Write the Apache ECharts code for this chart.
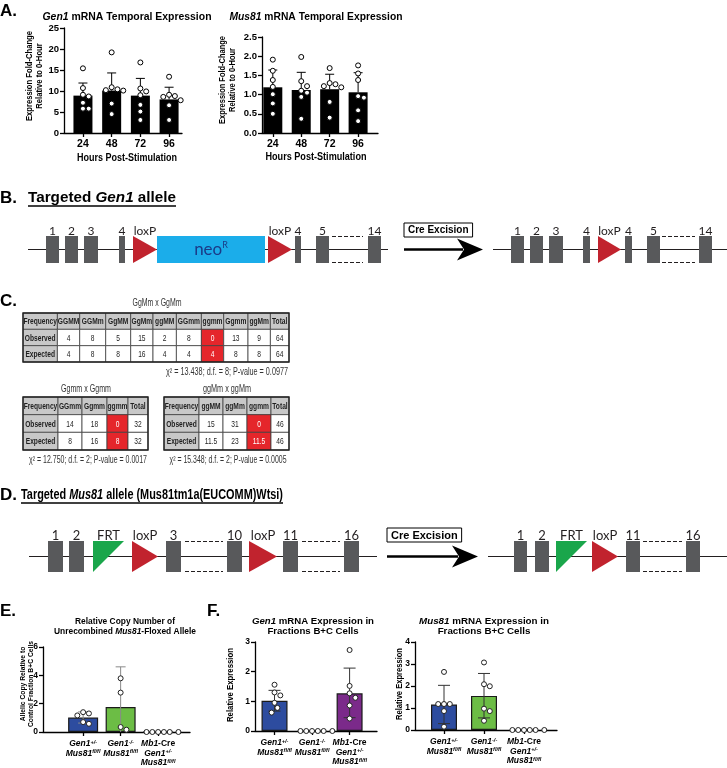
<!DOCTYPE html>
<html><head><meta charset="utf-8">
<script src="https://cdn.jsdelivr.net/npm/echarts@6/dist/echarts.min.js"></script>
<style>html,body{margin:0;padding:0;background:#fff}#c{width:727px;height:768px}</style>
</head><body><div id="c"></div>
<script>
// ================= DATA =================
// Panel A
const hours = ['24', '48', '72', '96'];
const gen1TempMean = [8.9, 10.1, 8.9, 8.0];
const gen1TempHigh = [11.9, 14.3, 13.0, 10.9];
const gen1TempPoints = [
  [15.4, 10.7, 9.1, 8.7, 7.2, 5.8, 5.8],
  [19.2, 10.9, 10.4, 10.2, 10.1, 7.0, 4.5],
  [16.8, 10.6, 9.9, 9.0, 6.7, 5.1, 3.1],
  [13.4, 9.1, 8.8, 8.6, 7.8, 6.6, 3.1]
];
const mus81TempMean = [1.19, 1.12, 1.14, 1.06];
const mus81TempHigh = [1.64, 1.58, 1.53, 1.57];
const mus81TempPoints = [
  [1.91, 1.62, 1.38, 1.20, 1.01, 0.77, 0.50],
  [1.98, 1.35, 1.22, 1.10, 1.05, 0.94, 0.37],
  [1.69, 1.30, 1.27, 1.22, 1.19, 0.81, 0.40],
  [1.76, 1.55, 1.38, 0.96, 0.92, 0.59, 0.31]
];
const gen1YTicks = [0, 5, 10, 15, 20, 25];
const mus81YTicks = [0, 0.5, 1.0, 1.5, 2.0, 2.5];

// Panel B schematic (schematic axis units)
const gen1Allele = [
  {kind: 'line', x0: 28, x1: 388},
  {kind: 'exon', x0: 46, x1: 59, label: '1'},
  {kind: 'exon', x0: 65, x1: 78, label: '2'},
  {kind: 'exon', x0: 84, x1: 98, label: '3'},
  {kind: 'exon', x0: 119, x1: 125, label: '4'},
  {kind: 'lox', x0: 133, x1: 157, label: 'loxP'},
  {kind: 'neo', x0: 157, x1: 265, label: 'neo', sup: 'R'},
  {kind: 'lox', x0: 268, x1: 292, label: 'loxP'},
  {kind: 'exon', x0: 295, x1: 301, label: '4'},
  {kind: 'exon', x0: 316, x1: 329, label: '5'},
  {kind: 'dash', x0: 332, x1: 363},
  {kind: 'exon', x0: 368, x1: 381, label: '14'},
  {kind: 'cre', x0: 404, x1: 483, label: 'Cre Excision'},
  {kind: 'line', x0: 493, x1: 727},
  {kind: 'exon', x0: 511, x1: 524, label: '1'},
  {kind: 'exon', x0: 530, x1: 543, label: '2'},
  {kind: 'exon', x0: 549, x1: 563, label: '3'},
  {kind: 'exon', x0: 583, x1: 590, label: '4'},
  {kind: 'lox', x0: 598, x1: 621, label: 'loxP'},
  {kind: 'exon', x0: 625, x1: 632, label: '4'},
  {kind: 'exon', x0: 647, x1: 660, label: '5'},
  {kind: 'dash', x0: 662, x1: 695},
  {kind: 'exon', x0: 699, x1: 712, label: '14'}
];

// Panel C tables
const crossATitle = 'GgMm x GgMm';
const crossAGenotypes = ['GGMM', 'GGMm', 'GgMM', 'GgMm', 'ggMM', 'GGmm', 'ggmm', 'Ggmm', 'ggMm', 'Total'];
const crossAObserved = ['4', '8', '5', '15', '2', '8', '0', '13', '9', '64'];
const crossAExpected = ['4', '8', '8', '16', '4', '4', '4', '8', '8', '64'];
const crossAStat = 'χ² = 13.438; d.f. = 8; P-value = 0.0977';

const crossBTitle = 'Ggmm x Ggmm';
const crossBGenotypes = ['GGmm', 'Ggmm', 'ggmm', 'Total'];
const crossBObserved = ['14', '18', '0', '32'];
const crossBExpected = ['8', '16', '8', '32'];
const crossBStat = 'χ² = 12.750; d.f. = 2; P-value = 0.0017';

const crossCTitle = 'ggMm x ggMm';
const crossCGenotypes = ['ggMM', 'ggMm', 'ggmm', 'Total'];
const crossCObserved = ['15', '31', '0', '46'];
const crossCExpected = ['11.5', '23', '11.5', '46'];
const crossCStat = 'χ² = 15.348; d.f. = 2; P-value = 0.0005';
const rowNames = ['Frequency', 'Observed', 'Expected'];
const lethalGenotype = 'ggmm';

// Panel D schematic
const mus81Allele = [
  {kind: 'line', x0: 29, x1: 377},
  {kind: 'exon', x0: 48, x1: 63, label: '1'},
  {kind: 'exon', x0: 69, x1: 84, label: '2'},
  {kind: 'frt', x0: 93, x1: 124, label: 'FRT'},
  {kind: 'lox', x0: 132, x1: 158, label: 'loxP'},
  {kind: 'exon', x0: 166, x1: 181, label: '3'},
  {kind: 'dash', x0: 185, x1: 223},
  {kind: 'exon', x0: 227, x1: 242, label: '10'},
  {kind: 'lox', x0: 249, x1: 277, label: 'loxP'},
  {kind: 'exon', x0: 283, x1: 298, label: '11'},
  {kind: 'dash', x0: 302, x1: 340},
  {kind: 'exon', x0: 344, x1: 359, label: '16'},
  {kind: 'cre', x0: 387, x1: 478, label: 'Cre Excision'},
  {kind: 'line', x0: 488, x1: 727},
  {kind: 'exon', x0: 514, x1: 527, label: '1'},
  {kind: 'exon', x0: 535, x1: 549, label: '2'},
  {kind: 'frt', x0: 556, x1: 587, label: 'FRT'},
  {kind: 'lox', x0: 592, x1: 618, label: 'loxP'},
  {kind: 'exon', x0: 626, x1: 640, label: '11'},
  {kind: 'dash', x0: 643, x1: 682},
  {kind: 'exon', x0: 686, x1: 700, label: '16'}
];

// Panels E / F
const mouseGroups = [
  '{i|Gen1}{s|+/-}\n{i|Mus81}{s|fl/fl}',
  '{i|Gen1}{s|-/-}\n{i|Mus81}{s|fl/fl}',
  '{i|Mb1}-Cre\n{i|Gen1}{s|+/-}\n{i|Mus81}{s|fl/fl}'
];
const copyMean = [1.02, 1.76, 0];
const copyLow = [0.63, 0, 0];
const copyHigh = [1.42, 4.6, 0];
const copyPoints = [[1.40, 1.31, 1.17, 0.70, 0.58], [3.79, 2.78, 0.35, 0.16], [0, 0, 0, 0, 0, 0]];
const copyYTicks = [0, 2, 4, 6];

const gen1ExprMean = [1.02, 0, 1.27];
const gen1ExprLow = [0.67, 0, 0.45];
const gen1ExprHigh = [1.37, 0, 2.12];
const gen1ExprPoints = [[1.56, 1.30, 1.20, 0.95, 0.78, 0.62], [0, 0, 0, 0, 0, 0], [2.73, 1.52, 1.27, 1.12, 0.86, 0.42]];
const gen1ExprYTicks = [0, 1, 2, 3];

const mus81ExprMean = [1.16, 1.55, 0];
const mus81ExprLow = [0.29, 0.55, 0];
const mus81ExprHigh = [2.03, 2.57, 0];
const mus81ExprPoints = [[2.64, 1.18, 1.18, 1.18, 0.86, 0.15], [3.07, 2.08, 1.99, 0.97, 0.86, 0.42], [0, 0, 0, 0, 0, 0]];
const mus81ExprYTicks = [0, 1, 2, 3, 4];

// ================= HELPERS =================
const FONT = "'Liberation Sans', Arial, Helvetica, sans-serif";
const SCHEM = "Lato, 'Open Sans', sans-serif";
const BLUE = '#2d4c9f', GREEN = '#6cbd45', PURPLE = '#7b2a8a';
const mctx = document.createElement('canvas').getContext('2d');

function parseRich(s) {
  return s.split('\n').map(line => {
    const toks = []; const re = /\{(\w+)\|([^}]*)\}|([^{]+)/g; let m;
    while ((m = re.exec(line))) { if (m[1]) toks.push({st: m[1], t: m[2]}); else toks.push({st: null, t: m[3]}); }
    return toks;
  });
}
function cssFont(o) { return `${o.fontStyle || 'normal'} ${o.fontWeight || 'normal'} ${o.fontSize}px ${o.fontFamily}`; }
function measure(s, base, rich) {
  return Math.max(...parseRich(s).map(toks => toks.reduce((w, tk) => {
    const st = Object.assign({}, base, tk.st && rich[tk.st] ? rich[tk.st] : {});
    mctx.font = cssFont(st); return w + mctx.measureText(tk.t).width;
  }, 0)));
}
const graphic = [];
function gtext(x, y, s, o) {
  const base = {fontFamily: o.family || FONT, fontSize: o.size, fontWeight: o.weight || 'bold', fontStyle: o.style || 'normal'};
  const rich = o.rich || {};
  const sx = o.width ? o.width / measure(s, base, rich) : 1;
  const zr = {};
  for (const k in rich) zr[k] = Object.assign({}, base, {fill: o.color || '#000', lineHeight: o.lh}, rich[k]);
  graphic.push({type: 'text', x, y, rotation: o.rot || 0, scaleX: sx, silent: true, z: 10,
    style: Object.assign({text: s, x: 0, y: 0, fill: o.color || '#000', align: o.align || 'center',
      verticalAlign: o.va || 'middle', rich: zr, lineHeight: o.lh}, base)});
  return sx;
}
function gline(x1, y1, x2, y2, w) {
  graphic.push({type: 'line', silent: true, z: 10, shape: {x1, y1, x2, y2}, style: {stroke: '#000', lineWidth: w || 1}});
}

const grid = [], xAxis = [], yAxis = [], series = [];
function addGrid(g) { grid.push(Object.assign({outerBoundsMode: 'none', containLabel: false}, g)); return grid.length - 1; }

function swarm(vals, pxPerY, d) {
  const placed = []; const gap = d + 0.8;
  return vals.map(v => {
    const y = v * pxPerY;
    for (let k = 0; k < 60; k++) {
      const c = k === 0 ? 0 : (k % 2 ? 1 : -1) * Math.ceil(k / 2) * gap * 0.5;
      if (placed.every(q => Math.hypot(q.x - c, q.y - y) >= gap)) { placed.push({x: c, y}); return c; }
    }
    return 0;
  });
}

function barPanel(p) {
  const gi = addGrid({left: p.left, top: p.top, width: p.width, height: p.height});
  const idx = p.cats.map((_, i) => i);
  const ls = {color: '#000', width: 1.3};
  xAxis.push({gridIndex: gi, type: 'value', min: p.xmin, max: p.xmax, splitLine: {show: false},
    axisLine: {show: true, onZero: false, lineStyle: ls},
    axisTick: {show: true, customValues: idx, length: 4, lineStyle: ls},
    axisLabel: {customValues: idx, formatter: v => p.cats[Math.round(v)], margin: p.xMargin, color: '#000',
      fontFamily: FONT, fontWeight: 'bold', fontSize: p.xSize, lineHeight: p.xLH, rich: p.xRich}});
  yAxis.push({gridIndex: gi, type: 'value', min: p.yTicks[0], max: p.yTicks[p.yTicks.length - 1],
    splitLine: {show: false},
    axisLine: {show: true, onZero: false, lineStyle: ls},
    axisTick: {show: true, length: 4, lineStyle: ls, customValues: p.yTicks},
    axisLabel: {customValues: p.yTicks, formatter: p.yfmt || (v => String(v)), margin: 5, color: '#000',
      fontFamily: FONT, fontWeight: 'bold', fontSize: p.ySize}});
  series.push({type: 'bar', xAxisIndex: gi, yAxisIndex: gi, barWidth: p.barWidth, z: 2, silent: true,
    data: p.means.map((m, i) => ({value: [i, m], itemStyle: {color: p.colors[i], borderColor: p.border, borderWidth: p.borderWidth}}))});
  const lows = p.lows || p.means;
  series.push({type: 'custom', xAxisIndex: gi, yAxisIndex: gi, z: 3, silent: true, clip: false,
    data: p.means.map((m, i) => [i, lows[i], p.highs[i], m]),
    renderItem: (params, api) => {
      const i = api.value(0), lo = api.value(1), hi = api.value(2), m = api.value(3);
      if (hi <= lo) return null;
      const a = api.coord([i, hi]), b = api.coord([i, lo]);
      const cw = p.capW, st = {stroke: p.errColor, lineWidth: 1};
      const ch = [{type: 'line', shape: {x1: a[0], y1: a[1], x2: b[0], y2: b[1]}, style: st},
        {type: 'line', shape: {x1: a[0] - cw, y1: a[1], x2: a[0] + cw, y2: a[1]}, style: st}];
      if (lo > 0 && lo < m) ch.push({type: 'line', shape: {x1: b[0] - cw, y1: b[1], x2: b[0] + cw, y2: b[1]}, style: st});
      return {type: 'group', children: ch};
    }});
  const pxX = p.width / (p.xmax - p.xmin), pxY = p.height / (p.yTicks[p.yTicks.length - 1]);
  const pts = [];
  p.points.forEach((vals, i) => { const off = swarm(vals, pxY, p.sym); vals.forEach((v, k) => pts.push([i + off[k] / pxX, v])); });
  series.push({type: 'scatter', xAxisIndex: gi, yAxisIndex: gi, z: 4, silent: true, clip: false,
    symbol: 'circle', symbolSize: p.sym, data: pts,
    itemStyle: {color: '#fff', borderColor: p.ptBorder, borderWidth: 1, opacity: 1}});
}

function diagram(items, top, height, labelSize, creSize) {
  const gi = addGrid({left: 0, top, width: 727, height});
  xAxis.push({gridIndex: gi, type: 'value', min: 0, max: 727, show: false});
  yAxis.push({gridIndex: gi, type: 'value', min: 0, max: 1, show: false});
  const lf = `normal ${labelSize}px ${SCHEM}`;
  const cf = `bold ${creSize}px ${FONT}`;
  series.push({type: 'custom', xAxisIndex: gi, yAxisIndex: gi, clip: false, silent: true, z: 2,
    data: items.map(it => [it.x0, it.x1]),
    renderItem: (params, api) => {
      const it = items[params.dataIndex];
      const a = api.coord([api.value(0), 0]), b = api.coord([api.value(1), 1]);
      const x0 = a[0], x1 = b[0], yb = a[1], yt = b[1], ym = (yb + yt) / 2;
      const kids = [];
      const lab = (t, cx) => kids.push({type: 'text', style: {text: t, x: cx, y: yt + 1, align: 'center', verticalAlign: 'bottom', font: lf, fill: '#231f20'}});
      if (it.kind === 'line') {
        kids.push({type: 'line', shape: {x1: x0, y1: ym, x2: x1, y2: ym}, style: {stroke: '#231f20', lineWidth: 1}});
      } else if (it.kind === 'exon') {
        kids.push({type: 'rect', shape: {x: x0, y: yt, width: x1 - x0, height: yb - yt}, style: {fill: '#58595b'}});
        lab(it.label, (x0 + x1) / 2);
      } else if (it.kind === 'lox') {
        kids.push({type: 'polygon', shape: {points: [[x0, yt], [x1, ym], [x0, yb]]}, style: {fill: '#c1232e'}});
        lab(it.label, (x0 + x1) / 2);
      } else if (it.kind === 'frt') {
        kids.push({type: 'polygon', shape: {points: [[x0, yt], [x1, yt], [x0, yb]]}, style: {fill: '#1aa64b'}});
        lab(it.label, (x0 + x1) / 2);
      } else if (it.kind === 'neo') {
        kids.push({type: 'rect', shape: {x: x0, y: yt, width: x1 - x0, height: yb - yt}, style: {fill: '#1badea'}});
        kids.push({type: 'text', style: {text: '{n|' + it.label + '}{s|' + it.sup + '}', x: (x0 + x1) / 2, y: ym, align: 'center', verticalAlign: 'middle',
          rich: {n: {font: `normal 17px ${SCHEM}`, fill: '#1b3a88', lineHeight: 18, verticalAlign: 'bottom'},
                 s: {font: `normal 9px ${SCHEM}`, fill: '#1b3a88', lineHeight: 18, verticalAlign: 'top'}}}});
      } else if (it.kind === 'dash') {
        const st = {stroke: '#231f20', lineWidth: 1, lineDash: [4, 2]};
        kids.push({type: 'line', shape: {x1: x0, y1: yt + 0.5, x2: x1, y2: yt + 0.5}, style: st});
        kids.push({type: 'line', shape: {x1: x0, y1: yb - 0.5, x2: x1, y2: yb - 0.5}, style: st});
      } else if (it.kind === 'cre') {
        mctx.font = cf; const tw = mctx.measureText(it.label).width;
        const bw = tw + 8, bh = 14, by = yt - 13;
        kids.push({type: 'rect', shape: {x: x0, y: by, width: bw, height: bh}, style: {fill: '#fff', stroke: '#000', lineWidth: 1}});
        kids.push({type: 'text', style: {text: it.label, x: x0 + bw / 2, y: by + bh / 2 + 0.5, align: 'center', verticalAlign: 'middle', font: cf, fill: '#000'}});
        kids.push({type: 'line', shape: {x1: x0, y1: ym, x2: x1 - 20, y2: ym}, style: {stroke: '#000', lineWidth: 2.5}});
        kids.push({type: 'polygon', shape: {points: [[x1 - 26, ym - 11], [x1, ym], [x1 - 26, ym + 11], [x1 - 19, ym]]}, style: {fill: '#000'}});
      }
      return {type: 'group', children: kids};
    }});
}

function table(rect, widths, genotypes, observed, expected) {
  const rows = [[rowNames[0]].concat(genotypes), [rowNames[1]].concat(observed), [rowNames[2]].concat(expected)];
  const hl = genotypes.indexOf(lethalGenotype) + 1;
  const edges = [0]; widths.forEach(w => edges.push(edges[edges.length - 1] + w));
  const gi = addGrid(rect);
  xAxis.push({gridIndex: gi, type: 'value', min: 0, max: edges[edges.length - 1], show: false});
  yAxis.push({gridIndex: gi, type: 'value', min: 0, max: rows.length, inverse: true, show: false});
  const data = [];
  rows.forEach((row, r) => row.forEach((_, c) => data.push([c, r])));
  series.push({type: 'custom', xAxisIndex: gi, yAxisIndex: gi, clip: false, silent: true, z: 2, data,
    renderItem: (params, api) => {
      const c = api.value(0), r = api.value(1);
      const p0 = api.coord([edges[c], r]), p1 = api.coord([edges[c + 1], r + 1]);
      const x = p0[0], y = p0[1], w = p1[0] - p0[0], h = p1[1] - p0[1];
      const head = r === 0 || c === 0, red = r > 0 && c === hl;
      const kids = [
        {type: 'rect', shape: {x, y, width: w, height: h}, style: {fill: red ? '#e5262b' : head ? '#c8c8c8' : '#fff', stroke: '#404040', lineWidth: 0.8}},
        {type: 'text', x: x + w / 2, y: y + h / 2 + 0.5, scaleX: 0.7, z2: 5,
          style: {text: rows[r][c], x: 0, y: 0, align: 'center', verticalAlign: 'middle', font: (head ? 'bold ' : 'normal ') + '9.5px ' + FONT, fill: red ? '#fff' : '#1e1e1e'}}
      ];
      if (params.dataIndex === 0) {
        const a = api.coord([0, 0]), b = api.coord([edges[edges.length - 1], rows.length]);
        kids.push({type: 'rect', z2: 10, shape: {x: a[0], y: a[1], width: b[0] - a[0], height: b[1] - a[1]}, style: {fill: 'none', stroke: '#222', lineWidth: 1.4}});
      }
      return {type: 'group', children: kids};
    }});
}

// ================= BUILD =================
const itRich = {i: {fontStyle: 'italic'}};
// Panel letters
[['A.', 0, 11], ['B.', 0, 198], ['C.', 0, 301], ['D.', 0, 495], ['E.', 0, 611], ['F.', 207, 611]].forEach(l =>
  gtext(l[1], l[2], l[0], {size: 17, align: 'left'}));

// Panel A
gtext(127, 17, '{i|Gen1} mRNA Temporal Expression', {size: 10.5, rich: itRich, width: 169});
gtext(316, 17, '{i|Mus81} mRNA Temporal Expression', {size: 10.5, rich: itRich, width: 173});
gtext(35, 76, 'Expression Fold-Change\nRelative to 0-Hour', {size: 9, rot: Math.PI / 2, lh: 10, width: 90});
gtext(228, 80, 'Expression Fold-Change\nRelative to 0-Hour', {size: 9, rot: Math.PI / 2, lh: 10, width: 88});
gtext(127, 158, 'Hours Post-Stimulation', {size: 10, width: 100});
gtext(316, 157, 'Hours Post-Stimulation', {size: 10, width: 101});

barPanel({left: 64, top: 28, width: 118, height: 105, xmin: -0.66, xmax: 3.45, cats: hours, xSize: 10.5, xMargin: 6,
  yTicks: gen1YTicks, ySize: 9.5, means: gen1TempMean, highs: gen1TempHigh, points: gen1TempPoints,
  colors: ['#000', '#000', '#000', '#000'], border: '#000', borderWidth: 0, barWidth: 19, capW: 4.5, errColor: '#000', sym: 5, ptBorder: '#000'});
barPanel({left: 262, top: 37, width: 116, height: 96, xmin: -0.38, xmax: 3.7, cats: hours, xSize: 10.5, xMargin: 6,
  yTicks: mus81YTicks, ySize: 9.5, yfmt: v => v.toFixed(1), means: mus81TempMean, highs: mus81TempHigh, points: mus81TempPoints,
  colors: ['#000', '#000', '#000', '#000'], border: '#000', borderWidth: 0, barWidth: 19, capW: 4.5, errColor: '#000', sym: 5, ptBorder: '#000'});

// Panel B
gtext(28, 198, 'Targeted {i|Gen1} allele', {size: 14.5, align: 'left', rich: itRich, width: 148});
gline(28, 206, 176, 206, 1.3);
diagram(gen1Allele, 236, 27, 12, 10);

// Panel C
gtext(157, 303, crossATitle, {size: 10.5, weight: 'normal', color: '#333', width: 49});
table({left: 23, top: 313, width: 266, height: 49}, [34.4, 22.3, 26, 25, 22.3, 23.4, 25, 22.3, 24.3, 22.4, 18.6], crossAGenotypes, crossAObserved, crossAExpected);
gtext(288, 372, crossAStat, {size: 10, weight: 'normal', color: '#333', align: 'right', width: 122});
gtext(86, 389, crossBTitle, {size: 10.5, weight: 'normal', color: '#333', width: 50});
gtext(227, 389, crossCTitle, {size: 10.5, weight: 'normal', color: '#333', width: 48});
table({left: 23, top: 397, width: 125, height: 53}, [35, 24, 25, 21, 20], crossBGenotypes, crossBObserved, crossBExpected);
table({left: 164, top: 397, width: 125, height: 53}, [35, 24, 24, 24, 18], crossCGenotypes, crossCObserved, crossCExpected);
gtext(88, 460, crossBStat, {size: 10, weight: 'normal', color: '#333', width: 118});
gtext(228, 460, crossCStat, {size: 10, weight: 'normal', color: '#333', width: 117});

// Panel D
gtext(21, 495, 'Targeted {i|Mus81} allele (Mus81tm1a(EUCOMM)Wtsi)', {size: 15, align: 'left', rich: itRich, width: 262});
gline(21, 503, 283, 503, 1.3);
diagram(mus81Allele, 541, 31, 13, 11);

// Panels E/F
const catRich = {
  i: {fontStyle: 'italic', fontWeight: 'bold', fontSize: 8.5, lineHeight: 9.5, fontFamily: FONT, color: '#000'},
  s: {fontStyle: 'italic', fontWeight: 'bold', fontSize: 5.5, lineHeight: 9.5, verticalAlign: 'top', fontFamily: FONT, color: '#000'}
};
gtext(125, 626, 'Relative Copy Number of\nUnrecombined {i|Mus81}-Floxed Allele', {size: 9.5, lh: 10, rich: itRich, width: 142});
gtext(313, 626, '{i|Gen1} mRNA Expression in\nFractions B+C Cells', {size: 9.5, lh: 10, rich: itRich, width: 122});
gtext(484, 626, '{i|Mus81} mRNA Expression in\nFractions B+C Cells', {size: 9.5, lh: 10, rich: itRich, width: 130});
gtext(27, 684, 'Allelic Copy Relative to\nControl Fraction B+C Cells', {size: 8, rot: Math.PI / 2, lh: 8, width: 86});
gtext(231, 685, 'Relative Expression', {size: 9, rot: Math.PI / 2, width: 74});
gtext(400, 684, 'Relative Expression', {size: 9, rot: Math.PI / 2, width: 72});

const efCommon = {cats: mouseGroups, xSize: 8.5, xLH: 9.5, xRich: catRich, xMargin: 7, ySize: 8.5,
  border: '#1a1a1a', borderWidth: 1.2, sym: 5, ptBorder: '#222'};
barPanel(Object.assign({}, efCommon, {left: 43, top: 647, width: 147, height: 85, xmin: -1.07, xmax: 2.85,
  yTicks: copyYTicks, means: copyMean, lows: copyLow, highs: copyHigh, points: copyPoints,
  colors: [BLUE, GREEN, PURPLE], barWidth: 30, capW: 5, errColor: '#8a8a8a'}));
barPanel(Object.assign({}, efCommon, {left: 255, top: 642, width: 122, height: 89, xmin: -0.52, xmax: 2.73,
  yTicks: gen1ExprYTicks, means: gen1ExprMean, lows: gen1ExprLow, highs: gen1ExprHigh, points: gen1ExprPoints,
  colors: [BLUE, GREEN, PURPLE], barWidth: 26, capW: 6, errColor: '#333'}));
barPanel(Object.assign({}, efCommon, {left: 415, top: 642, width: 142, height: 88, xmin: -0.725, xmax: 2.825,
  yTicks: mus81ExprYTicks, means: mus81ExprMean, lows: mus81ExprLow, highs: mus81ExprHigh, points: mus81ExprPoints,
  colors: [BLUE, GREEN, PURPLE], barWidth: 26, capW: 6, errColor: '#333'}));

const chart = echarts.init(document.getElementById('c'), null, {renderer: 'canvas'});
chart.setOption({backgroundColor: '#fff', animation: false, grid, xAxis, yAxis, series, graphic: {elements: graphic}});
</script></body></html>
